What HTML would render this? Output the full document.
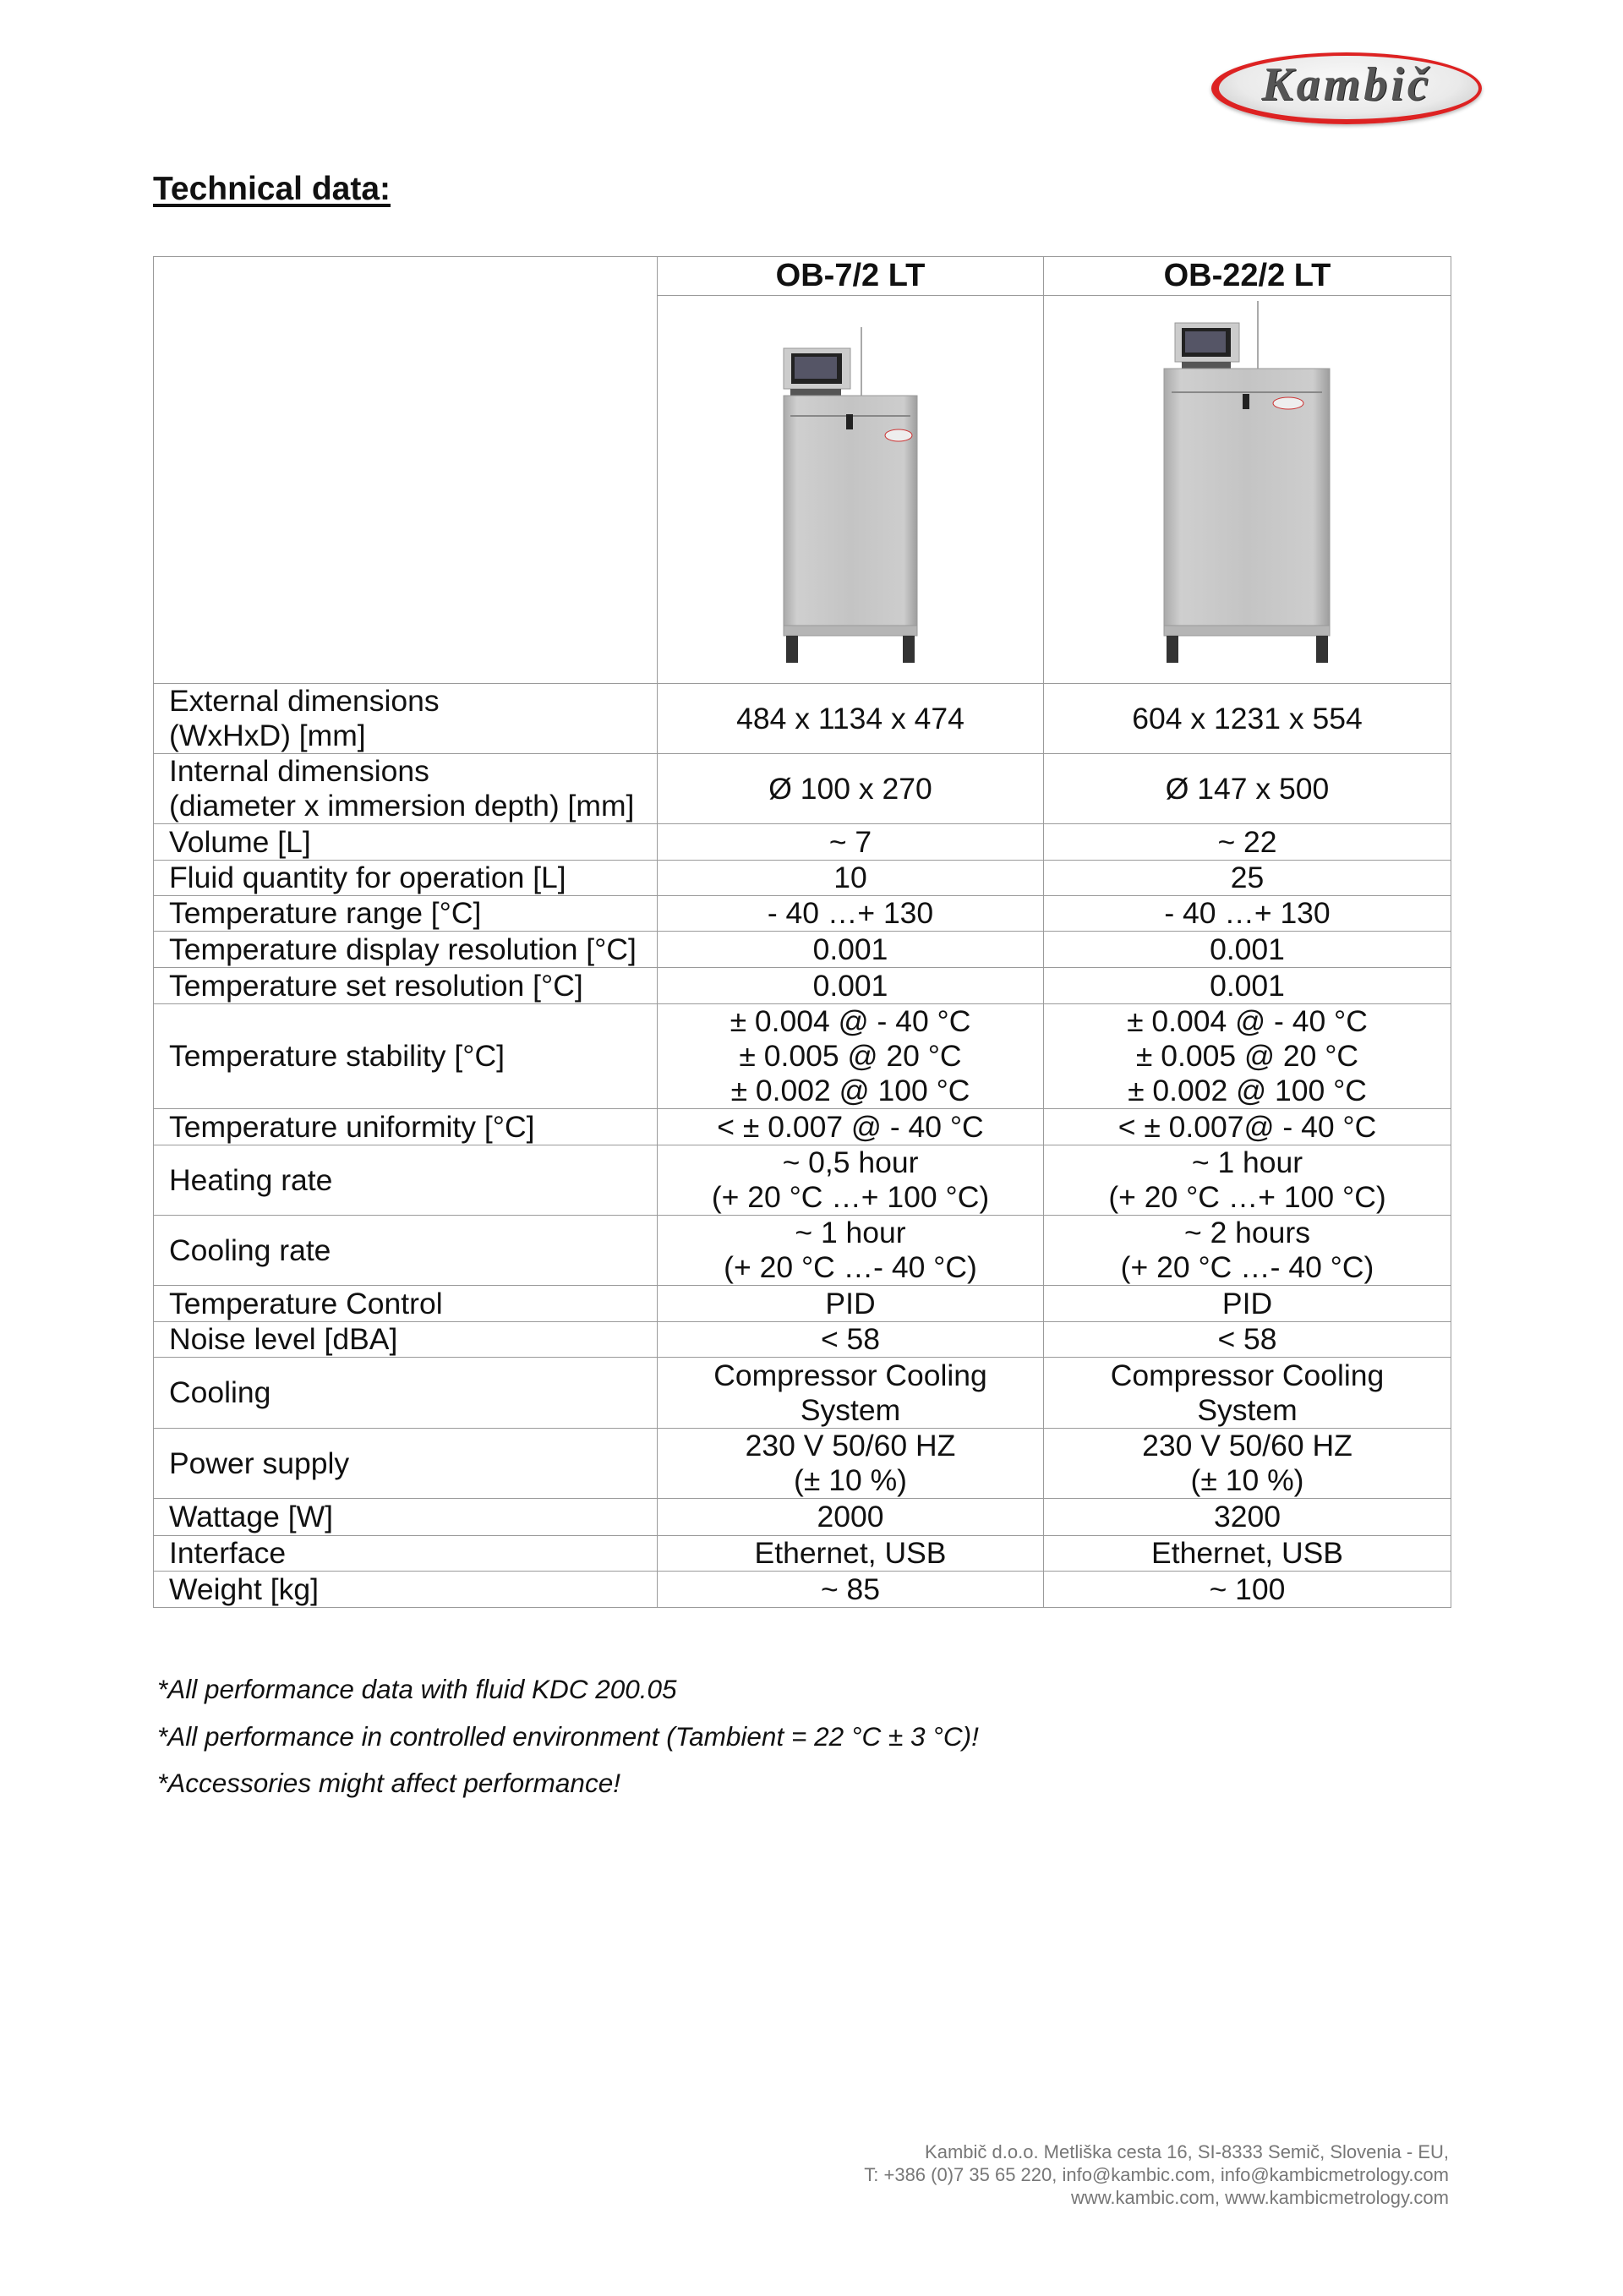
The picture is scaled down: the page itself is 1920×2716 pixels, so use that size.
<!DOCTYPE html>
<html><head><meta charset="utf-8"><style>
*{margin:0;padding:0;box-sizing:border-box}
body{width:1920px;height:2716px;background:#fff;position:relative;font-family:"Liberation Sans",Arial,sans-serif;color:#111;overflow:hidden}
.abs{position:absolute}
table{position:absolute;left:181px;top:303px;border-collapse:collapse;table-layout:fixed;width:1535px}
td{border:1.5px solid #9a9a9a;font-size:35.5px;line-height:41px;text-align:center;vertical-align:middle;padding:0;white-space:nowrap;overflow:visible}
td.l{text-align:left;padding-left:18px}
th{border:1.5px solid #9a9a9a;font-size:38px;font-weight:bold;text-align:center;padding:0}
.foot{position:absolute;left:186px;font-style:italic;font-size:31.5px}
.addr{position:absolute;right:206px;text-align:right;font-size:22px;color:#777;line-height:27px}
</style></head><body>
<div class="abs" style="left:1433px;top:62px;width:320px;height:85px;border-radius:50%;background:radial-gradient(ellipse at 50% 40%,#fafafa 0%,#eaeaea 60%,#c8c8c8 90%);border:4px solid #d22;border-left-width:9px;border-bottom-width:6px;box-shadow:0 2px 4px rgba(0,0,0,.3)"></div>
<div class="abs" style="left:1433px;top:68px;width:320px;text-align:center;font-family:'Liberation Serif',serif;font-weight:bold;font-style:italic;font-size:56px;color:#555;letter-spacing:4px;text-shadow:1px 1px 0 #222">Kambič</div>

<div class="abs" style="left:181px;top:202px;font-size:39px;font-weight:bold;text-decoration:underline;text-decoration-thickness:4px;text-underline-offset:5px">Technical data:</div>

<table>
<colgroup><col style="width:596px"><col style="width:457px"><col style="width:482px"></colgroup>
<tr style="height:46px"><td rowspan="2"></td><th>OB-7/2 LT</th><th>OB-22/2 LT</th></tr>
<tr style="height:459px"><td></td><td></td></tr>
<tr style="height:83px"><td class="l">External dimensions<br>(WxHxD) [mm]</td><td>484 x 1134 x 474</td><td>604 x 1231 x 554</td></tr>
<tr style="height:83px"><td class="l">Internal dimensions<br>(diameter x immersion depth) [mm]</td><td>Ø 100 x 270</td><td>Ø 147 x 500</td></tr>
<tr style="height:43px"><td class="l">Volume [L]</td><td>~ 7</td><td>~ 22</td></tr>
<tr style="height:42px"><td class="l">Fluid quantity for operation [L]</td><td>10</td><td>25</td></tr>
<tr style="height:42px"><td class="l">Temperature range [°C]</td><td>- 40 …+ 130</td><td>- 40 …+ 130</td></tr>
<tr style="height:43px"><td class="l">Temperature display resolution [°C]</td><td>0.001</td><td>0.001</td></tr>
<tr style="height:43px"><td class="l">Temperature set resolution [°C]</td><td>0.001</td><td>0.001</td></tr>
<tr style="height:123px"><td class="l">Temperature stability [°C]</td><td>± 0.004 @ - 40 °C<br>± 0.005 @ 20 °C<br>± 0.002 @ 100 °C</td><td>± 0.004 @ - 40 °C<br>± 0.005 @ 20 °C<br>± 0.002 @ 100 °C</td></tr>
<tr style="height:43px"><td class="l">Temperature uniformity [°C]</td><td>&lt; ± 0.007 @ - 40 °C</td><td>&lt; ± 0.007@ - 40 °C</td></tr>
<tr style="height:83px"><td class="l">Heating rate</td><td>~ 0,5 hour<br>(+ 20 °C …+ 100 °C)</td><td>~ 1 hour<br>(+ 20 °C …+ 100 °C)</td></tr>
<tr style="height:83px"><td class="l">Cooling rate</td><td>~ 1 hour<br>(+ 20 °C …- 40 °C)</td><td>~ 2 hours<br>(+ 20 °C …- 40 °C)</td></tr>
<tr style="height:43px"><td class="l">Temperature Control</td><td>PID</td><td>PID</td></tr>
<tr style="height:42px"><td class="l">Noise level [dBA]</td><td>&lt; 58</td><td>&lt; 58</td></tr>
<tr style="height:84px"><td class="l">Cooling</td><td>Compressor Cooling<br>System</td><td>Compressor Cooling<br>System</td></tr>
<tr style="height:82px"><td class="l">Power supply</td><td>230 V 50/60 HZ<br>(± 10 %)</td><td>230 V 50/60 HZ<br>(± 10 %)</td></tr>
<tr style="height:44px"><td class="l">Wattage [W]</td><td>2000</td><td>3200</td></tr>
<tr style="height:42px"><td class="l">Interface</td><td>Ethernet, USB</td><td>Ethernet, USB</td></tr>
<tr style="height:43px"><td class="l">Weight [kg]</td><td>~ 85</td><td>~ 100</td></tr>
</table>

<svg class="abs" style="left:0;top:0" width="1920" height="820">
 <defs><linearGradient id="g" x1="0" x2="1"><stop offset="0" stop-color="#a9a9a9"/><stop offset=".1" stop-color="#cfcfcf"/><stop offset=".5" stop-color="#c4c4c4"/><stop offset=".9" stop-color="#cdcdcd"/><stop offset="1" stop-color="#9d9d9d"/></linearGradient></defs>
 <g>
  <line x1="1019" y1="387" x2="1019" y2="470" stroke="#aaa" stroke-width="2"/>
  <rect x="927" y="412" width="79" height="48" fill="#ccc" stroke="#999"/>
  <rect x="936" y="418" width="60" height="36" fill="#222"/>
  <rect x="940" y="422" width="50" height="26" fill="#556"/>
  <rect x="935" y="460" width="60" height="9" fill="#555"/>
  <rect x="927" y="468" width="158" height="284" fill="url(#g)" stroke="#999"/>
  <line x1="935" y1="492" x2="1077" y2="492" stroke="#888" stroke-width="2"/>
  <rect x="1001" y="490" width="8" height="18" fill="#222"/>
  <ellipse cx="1063" cy="515" rx="16" ry="7" fill="#eee" stroke="#c33"/>
  <rect x="927" y="740" width="158" height="12" fill="#b5b5b5" stroke="#999"/>
  <rect x="930" y="752" width="14" height="32" fill="#333"/>
  <rect x="1068" y="752" width="14" height="32" fill="#333"/>
 </g>
 <g>
  <line x1="1488" y1="356" x2="1488" y2="438" stroke="#aaa" stroke-width="2"/>
  <rect x="1390" y="382" width="76" height="46" fill="#ccc" stroke="#999"/>
  <rect x="1398" y="388" width="58" height="34" fill="#222"/>
  <rect x="1402" y="392" width="48" height="25" fill="#556"/>
  <rect x="1398" y="428" width="58" height="9" fill="#555"/>
  <rect x="1377" y="436" width="196" height="316" fill="url(#g)" stroke="#999"/>
  <line x1="1386" y1="464" x2="1564" y2="464" stroke="#888" stroke-width="2"/>
  <rect x="1470" y="466" width="8" height="18" fill="#222"/>
  <ellipse cx="1524" cy="477" rx="18" ry="7" fill="#eee" stroke="#c33"/>
  <rect x="1377" y="740" width="196" height="12" fill="#b5b5b5" stroke="#999"/>
  <rect x="1380" y="752" width="14" height="32" fill="#333"/>
  <rect x="1557" y="752" width="14" height="32" fill="#333"/>
 </g>
</svg>

<div class="foot" style="top:1980px">*All performance data with fluid KDC 200.05</div>
<div class="foot" style="top:2036px">*All performance in controlled environment (Tambient = 22 °C ± 3 °C)!</div>
<div class="foot" style="top:2091px">*Accessories might affect performance!</div>

<div class="addr" style="top:2532px">Kambič d.o.o. Metliška cesta 16, SI-8333 Semič, Slovenia - EU,<br>T: +386 (0)7 35 65 220, info@kambic.com, info@kambicmetrology.com<br>www.kambic.com, www.kambicmetrology.com</div>
</body></html>
